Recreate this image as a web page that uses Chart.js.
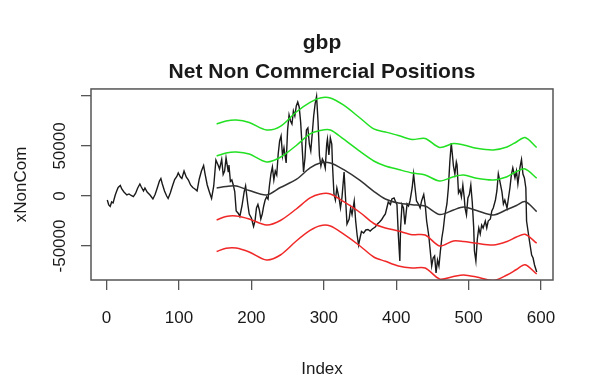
<!DOCTYPE html>
<html>
<head>
<meta charset="utf-8">
<title>gbp - Net Non Commercial Positions</title>
<script src="https://cdn.jsdelivr.net/npm/chart.js@4.4.0/dist/chart.umd.min.js"></script>
<style>
  html, body { margin: 0; padding: 0; background: #fff; }
  #wrap { width: 600px; height: 392px; }
</style>
</head>
<body>
<div id="wrap"><canvas id="chart" width="600" height="392"></canvas></div>
<script>
// weekly net non-commercial positions (index / value)
const rawIndex = [
  1, 3, 5, 7, 9, 12, 14, 16, 19, 21, 24, 28, 31, 34, 37, 40, 43, 46, 48, 51,
  53, 56, 60, 64, 67, 70, 73, 75, 77, 80, 83, 85, 88, 91, 94, 97, 99, 102, 104, 107,
  110, 113, 116, 119, 122, 125, 128, 131, 134, 136, 139, 142, 145, 148, 151, 154, 156, 159, 161, 163,
  165, 168, 169, 171, 173, 175, 177, 179, 182, 184, 187, 190, 192, 195, 197, 200, 203, 205, 207, 209,
  211, 213, 215, 217, 219, 221, 223, 225, 227, 229, 231, 233, 235, 237, 239, 241, 243, 245, 248, 250,
  252, 254, 256, 258, 260, 262, 264, 266, 268, 270, 272, 274, 276, 278, 280, 282, 284, 286, 288, 290,
  292, 294, 296, 298, 300, 302, 304, 305, 307, 309, 311, 312, 314, 316, 318, 321, 323, 325, 328, 330,
  332, 335, 337, 339, 342, 344, 346, 348, 350, 352, 355, 358, 361, 364, 367, 371, 374, 377, 380, 383,
  385, 387, 389, 392, 394, 397, 399, 401, 403, 405, 406, 408, 410, 412, 415, 417, 419, 422, 424, 426,
  428, 431, 433, 435, 438, 440, 442, 445, 447, 449, 451, 453, 455, 457, 459, 461, 463, 465, 467, 470,
  472, 474, 476, 478, 479, 481, 483, 484, 486, 488, 490, 492, 494, 495, 497, 499, 501, 503, 505, 507,
  508, 510, 512, 514, 516, 518, 520, 523, 525, 527, 530, 532, 534, 537, 539, 541, 543, 546, 548, 550,
  553, 555, 557, 559, 561, 564, 566, 568, 571, 573, 575, 577, 579, 580, 582, 584, 587, 589, 591, 594
];
const rawValues = [
  -4000, -9000, -10500, -6000, -7000, 1000, 5000, 8500, 10500, 7000, 4000, 1000, 2000, 500, -700, 2500, 8000, 12000, 9000, 5000,
  8000, 4000, 1000, -3000, 1500, 8000, 15000, 17500, 12000, 5000, 0, -2500, 3000, 10000, 16500, 19500, 23000, 19000, 17500, 25000,
  19000, 16000, 11000, 8500, 7000, 5000, 17000, 25000, 30500, 22000, 11000, 4000, -2500, 10000, 36000, 31000, 27000, 36500, 21500, 25000,
  38000, 24500, 31000, 14500, 16000, 11000, 4500, -15000, -17500, -20500, -10000, 4000, 10000, -8000, -18000, -22000, -30500, -25000, -12000, -8500,
  -14000, -23000, -18000, -10000, -4000, -1000, -3000, 11000, 22000, 29000, 16000, 25000, 21000, 42000, 55000, 60000, 40000, 48000, 33000, 66000,
  81000, 75000, 72000, 85000, 80000, 90000, 94000, 89000, 74000, 50000, 24000, 38000, 66000, 68000, 52000, 45000, 62000, 80000, 92000, 99500,
  75000, 40000, 30000, 37000, 34000, 28000, 52000, 57000, 41000, 58000, 52000, 31000, 2000, -4000, 8000, -2000, -12000, -2000, 24000, -2000,
  -28000, -23000, -12000, -18500, -5000, -25000, -39000, -49000, -42000, -35500, -37000, -34000, -33500, -35000, -33000, -31000, -28000, -26000, -23500, -20000,
  -18000, -12000, -6000, -8500, -3000, -2000, -5500, -8500, -40000, -65000, -32000, -8500, -12000, -28500, -8000, -10000, -5000, 8000, 22000, 8000,
  -5000, -8500, -12000, -5000, 1500, -8500, -25000, -40000, -55000, -70000, -62000, -60000, -77000, -64000, -70000, -55000, -42000, -33000, -20000, -8000,
  8000, 34000, 53000, 38000, 30000, 22000, 34000, 31000, 3000, 6000, -1000, 11000, -2000, -12000, -19000, -2000, 1500, 11000, -6000, -32000,
  -55000, -65000, -43000, -32000, -38000, -29000, -32000, -25000, -32000, -25000, -23000, -15000, -12000, -4000, 5000, 22000, 15000, 4000, -8000, -4000,
  -12000, -2000, 8000, 21000, 28000, 18000, 25000, 12000, 29000, 36500, 22000, 18000, 8000, -25000, -35000, -45000, -59000, -62000, -69000, -76000
];

// rolling mean and the +/- 1 and 2 sd bands, sampled at these indices
const bandIndex = [152, 165, 179, 197, 221, 240, 262, 281, 295, 309, 327, 350, 369, 385, 403, 422, 440, 460, 479, 493, 511, 534, 553, 566, 578, 594];
const movingAvg = [8000, 9500, 10000, 5500, 1000, 8500, 16500, 28000, 33000, 33000, 26500, 15500, 4700, -3000, -7000, -8700, -10000, -18500, -14000, -11000, -14500, -19000, -13500, -9500, -5500, -15700];
const upperOuter = [72000, 75000, 76000, 73500, 66000, 69500, 84000, 93500, 98000, 98000, 91000, 78000, 67000, 64000, 60500, 56500, 57500, 48500, 52500, 51000, 47700, 46000, 49000, 54000, 58500, 48500];
const upperInner = [40000, 43000, 44000, 42000, 34000, 38700, 50500, 62000, 65500, 66000, 57000, 44500, 35000, 30000, 26500, 23000, 21000, 15000, 19300, 21000, 17700, 16000, 19300, 24500, 27000, 17800];
const lowerInner = [-24000, -20500, -20000, -23000, -29000, -24500, -13000, -2000, 2000, 2000, -5500, -16500, -27500, -32000, -35000, -38700, -39000, -50000, -45000, -45500, -47300, -49000, -45500, -41000, -38300, -47200];
const lowerOuter = [-55500, -52200, -52000, -56000, -64000, -59000, -45000, -34500, -29700, -30000, -38000, -50000, -61000, -65300, -70000, -72000, -72000, -83000, -80500, -79000, -81000, -84500, -79000, -73500, -68700, -78000];

const xTicks = [0, 100, 200, 300, 400, 500, 600];
const yTicks = [-50000, 0, 50000, 100000];
const yTickLabels = ['-50000', '0', '50000', ''];

const FONT = "'Liberation Sans', Arial, sans-serif";
const TEXT = '#1a1a1a';
const AXIS = '#555';

Chart.defaults.font.family = FONT;

function pts(xs, ys) {
  return xs.map((x, i) => ({ x: x, y: ys[i] }));
}

function band(label, ys, color) {
  return {
    label: label,
    data: pts(bandIndex, ys),
    borderColor: color,
    borderWidth: 1.5,
    pointRadius: 0,
    tension: 0.3,
    fill: false
  };
}

// box round the plot, rotated y tick labels and y title, R style
const rFrame = {
  id: 'rFrame',
  afterDraw(chart) {
    const { ctx, chartArea: a, scales } = chart;
    const y = scales.y;
    ctx.save();
    ctx.strokeStyle = AXIS;
    ctx.lineWidth = 1.5;
    ctx.strokeRect(a.left, a.top, a.right - a.left, a.bottom - a.top);

    ctx.fillStyle = TEXT;
    ctx.font = '17px ' + FONT;
    ctx.textAlign = 'center';
    ctx.textBaseline = 'middle';
    yTicks.forEach((v, i) => {
      if (!yTickLabels[i]) return;
      ctx.save();
      ctx.translate(60, y.getPixelForValue(v));
      ctx.rotate(-Math.PI / 2);
      ctx.fillText(yTickLabels[i], 0, 0);
      ctx.restore();
    });
    ctx.save();
    ctx.translate(21, (a.top + a.bottom) / 2);
    ctx.rotate(-Math.PI / 2);
    ctx.fillText('xNonCom', 0, 0);
    ctx.restore();
    ctx.restore();
  }
};

new Chart(document.getElementById('chart'), {
  type: 'line',
  data: {
    datasets: [
      band('upper 2sd', upperOuter, '#22e022'),
      band('upper 1sd', upperInner, '#22e022'),
      band('lower 1sd', lowerInner, '#f02828'),
      band('lower 2sd', lowerOuter, '#f02828'),
      band('moving average', movingAvg, '#333333'),
      {
        label: 'xNonCom',
        data: pts(rawIndex, rawValues),
        borderColor: '#1a1a1a',
        borderWidth: 1.4,
        pointRadius: 0,
        tension: 0,
        fill: false
      }
    ]
  },
  options: {
    responsive: false,
    animation: false,
    devicePixelRatio: 1,
    layout: { padding: { left: 0, right: 47, top: 0, bottom: 0 } },
    plugins: {
      legend: { display: false },
      tooltip: { enabled: false },
      title: {
        display: true,
        fullSize: false,
        text: ['gbp', 'Net Non Commercial Positions'],
        color: TEXT,
        font: { size: 21, weight: 'bold', lineHeight: 1.38 },
        padding: { top: 28.5, bottom: 2.5 }
      }
    },
    scales: {
      x: {
        type: 'linear',
        position: 'bottom',
        min: -21.5,
        max: 616.5,
        afterBuildTicks: (scale) => { scale.ticks = xTicks.map(v => ({ value: v })); },
        afterFit: (scale) => { scale.height = 112; },
        ticks: { color: TEXT, font: { size: 17 }, padding: 18, maxRotation: 0 },
        grid: { drawOnChartArea: false, drawTicks: true, tickLength: 10, color: AXIS, lineWidth: 1.3 },
        border: { display: false },
        title: { display: true, text: 'Index', color: TEXT, font: { size: 17 }, padding: { top: 0, bottom: 12 } }
      },
      y: {
        type: 'linear',
        position: 'left',
        min: -84000,
        max: 107000,
        afterBuildTicks: (scale) => { scale.ticks = yTicks.map(v => ({ value: v })); },
        afterFit: (scale) => { scale.width = 91; },
        ticks: { display: false },
        grid: { drawOnChartArea: false, drawTicks: true, tickLength: 10, color: AXIS, lineWidth: 1.3 },
        border: { display: false }
      }
    }
  },
  plugins: [rFrame]
});
</script>
</body>
</html>
